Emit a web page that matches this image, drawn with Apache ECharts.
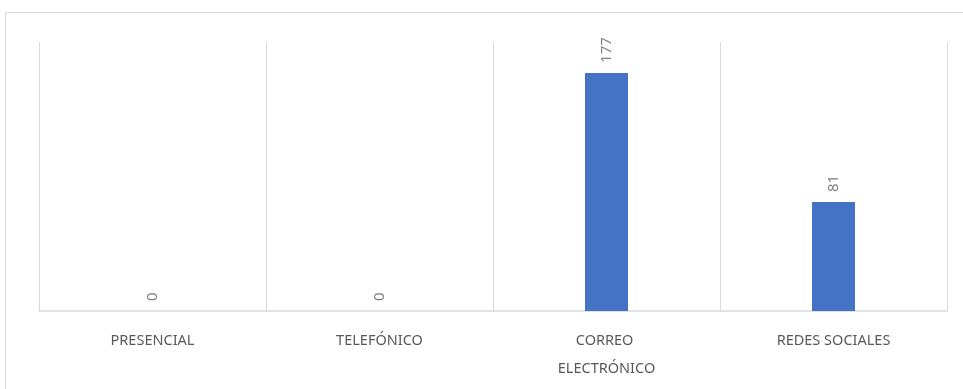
<!DOCTYPE html>
<html>
<head>
<meta charset="utf-8">
<script src="https://cdn.jsdelivr.net/npm/echarts@6/dist/echarts.min.js"></script>
<style>
html,body{margin:0;padding:0;background:#fff;}
#chart{width:963px;height:389px;}
</style>
</head>
<body>
<div id="chart"></div>
<script>
var categories = ['PRESENCIAL', 'TELEFÓNICO', 'CORREO ELECTRÓNICO', 'REDES SOCIALES'];
var values = [0, 0, 177, 81];

var chart = echarts.init(document.getElementById('chart'), null, {renderer: 'canvas'});
chart.setOption({
  animation: false,
  backgroundColor: '#ffffff',
  graphic: [{
    type: 'rect',
    shape: {x: 5.5, y: 12.5, width: 1000, height: 400},
    style: {fill: 'none', stroke: '#d9d9d9', lineWidth: 1},
    silent: true
  }],
  grid: {left: 39, right: 16, top: 42, bottom: 78, containLabel: false},
  xAxis: {
    type: 'category',
    data: categories,
    boundaryGap: true,
    axisLine: {show: true, lineStyle: {color: '#d9d9d9', width: 1.5}},
    axisTick: {show: false},
    splitLine: {show: true, lineStyle: {color: '#d9d9d9', width: 1}},
    axisLabel: {
      interval: 0,
      color: '#595959',
      fontFamily: 'Noto Sans',
      fontSize: 14.5,
      margin: 16,
      width: 140,
      overflow: 'break',
      lineHeight: 28
    }
  },
  yAxis: {
    type: 'value',
    min: 0,
    max: 200,
    show: false,
    splitLine: {show: false}
  },
  series: [{
    type: 'bar',
    data: values,
    barWidth: 43,
    itemStyle: {color: '#4472c4'},
    label: {
      show: true,
      position: 'top',
      rotate: 90,
      align: 'left',
      verticalAlign: 'middle',
      distance: 10,
      color: '#7f7f7f',
      fontFamily: 'Noto Sans',
      fontSize: 15
    }
  }]
});
</script>
</body>
</html>
